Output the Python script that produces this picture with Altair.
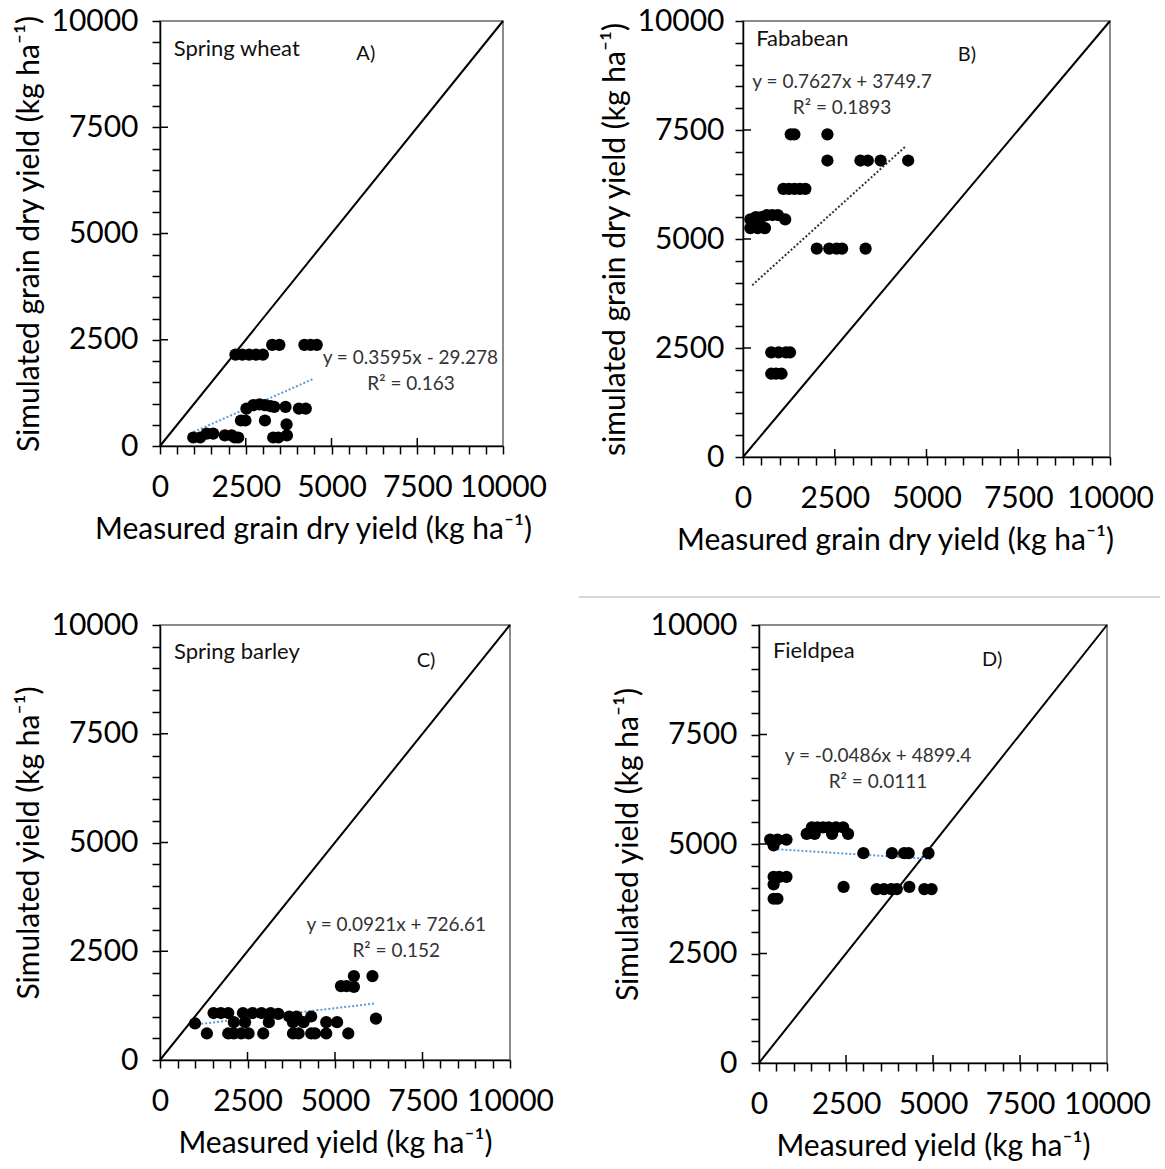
import altair as alt
import pandas as pd

FONT = "Lato"
TICKS = list(range(0, 10001, 500))
MAJOR = [2500, 5000, 7500]

# ---------------- Panel A: Spring wheat ----------------
A_meas = [2200, 2400, 2600, 2800, 3000,
          3270, 3480, 4210, 4390, 4570,
          2520, 2720, 2900, 3060, 3220, 3330, 3660, 4050, 4250,
          2360, 2490, 3060, 3690,
          3300, 3450, 3700,
          970, 1170, 1360, 1550, 1890, 2090, 2180, 2280]
A_sim = [2150, 2150, 2150, 2150, 2150,
         2380, 2380, 2380, 2380, 2380,
         880, 960, 980, 960, 940, 920, 920, 880, 880,
         600, 600, 600, 510,
         200, 200, 250,
         200, 200, 290, 290, 250, 250, 200, 200]
A_trend_x = [980, 4500]
A_trend_y = [330, 1590]

# ---------------- Panel B: Fababean ----------------
B_meas = [200, 350, 500, 650, 800, 950, 1150,
          200, 400, 600,
          1100, 1250, 1400, 1550, 1700,
          1300, 1400, 2300,
          2300, 3200, 3400, 3750, 4500,
          2010, 2350, 2550, 2700, 3340,
          770, 970, 1170, 1280,
          770, 900, 1050]
B_sim = [5450, 5500, 5500, 5550, 5550, 5550, 5450,
         5250, 5250, 5250,
         6150, 6150, 6150, 6150, 6150,
         7400, 7400, 7400,
         6800, 6800, 6800, 6800, 6800,
         4780, 4780, 4780, 4780, 4780,
         2400, 2400, 2400, 2400,
         1910, 1910, 1910]
B_trend_x = [250, 4450]
B_trend_y = [3940, 7140]

# ---------------- Panel C: Spring barley ----------------
C_meas = [1000, 1340,
          1530, 1740, 1950, 2370, 2640, 2900, 3160, 3380,
          3690, 3900, 4320,
          2110, 2430, 3110, 3800, 4100, 4750, 5060,
          1950, 2110, 2320, 2530, 2950, 3800, 3960, 4320, 4430, 4750, 5380,
          5170, 5330, 5540, 5540, 6070, 6170]
C_sim = [840, 610,
         1080, 1080, 1080, 1080, 1080, 1080, 1080, 1060,
         1000, 1000, 1000,
         870, 870, 870, 870, 870, 870, 870,
         610, 610, 610, 610, 610, 610, 610, 610, 610, 610, 610,
         1700, 1700, 1930, 1680, 1930, 950]
C_trend_x = [950, 6150]
C_trend_y = [810, 1300]

# ---------------- Panel D: Fieldpea ----------------
D_meas = [320, 530, 420, 790,
          1370, 1520, 1680, 1840, 2000, 2210, 2420, 2560, 1600, 2100,
          3000, 3820, 4170, 4300, 4870,
          420, 580, 790, 420,
          420, 530,
          2430,
          3380, 3590, 3800, 3960, 4320, 4750, 4960]
D_sim = [5100, 5100, 4970, 5100,
         5230, 5380, 5380, 5380, 5380, 5380, 5380, 5230, 5230, 5230,
         4790, 4790, 4790, 4790, 4790,
         4250, 4250, 4250, 4080,
         3750, 3750,
         4020,
         3970, 3970, 3970, 3970, 4020, 3970, 3970]
D_trend_x = [300, 4950]
D_trend_y = [4890, 4660]

LABEL_EXPR = "datum.value % 2500 === 0 ? datum.label : ''"


def make_axis(title, label_pad, title_pad, title_x=None):
    kw = dict(values=TICKS, labelExpr=LABEL_EXPR, format="d", labelFlush=False,
              labelOverlap=False, title=title, grid=False, tickSize=8,
              labelPadding=label_pad, titlePadding=title_pad)
    if title_x is not None:
        kw["titleX"] = title_x
    return alt.Axis(**kw)


def panel(meas, sim, tx, ty, tcolor, texts, xtitle, ytitle, w, h,
          xtitle_x=None, ytitle_pad=6, ylabel_pad=14, sep=False):
    sc = alt.Scale(domain=[0, 10000], nice=False, zero=False)
    X = alt.X("x:Q", scale=sc, axis=make_axis(xtitle, 18, 12, xtitle_x))
    Y = alt.Y("y:Q", scale=sc, axis=make_axis(ytitle, ylabel_pad, ytitle_pad))

    diag = alt.Chart(pd.DataFrame({"x": [0, 10000], "y": [0, 10000]})).mark_line(
        color="black", strokeWidth=2).encode(x=X, y=Y)
    trend = alt.Chart(pd.DataFrame({"x": tx, "y": ty})).mark_line(
        color=tcolor, strokeDash=[2, 2], strokeWidth=2).encode(x=X, y=Y)
    pts = alt.Chart(pd.DataFrame({"x": meas, "y": sim})).mark_circle(
        size=150, color="black", opacity=1).encode(x=X, y=Y)
    ytk = alt.Chart(pd.DataFrame({"y": MAJOR})).mark_rule(
        color="black", strokeWidth=1.5).encode(y=Y, x=alt.value(0), x2=alt.value(8))
    xtk = alt.Chart(pd.DataFrame({"x": MAJOR})).mark_rule(
        color="black", strokeWidth=1.5).encode(x=X, y=alt.value(h), y2=alt.value(h - 8))

    name, letter, eq, r2 = texts
    t_name = alt.Chart(pd.DataFrame([name])).mark_text(
        align="left", baseline="middle", font=FONT, fontSize=22, color="#111").encode(
        x=X, y=Y, text="t:N")
    t_letter = alt.Chart(pd.DataFrame([letter])).mark_text(
        align="center", baseline="middle", font=FONT, fontSize=20, color="#111").encode(
        x=X, y=Y, text="t:N")
    t_eq = alt.Chart(pd.DataFrame([eq, r2])).mark_text(
        align="center", baseline="middle", font=FONT, fontSize=19, color="#333").encode(
        x=X, y=Y, text="t:N")
    layers = [diag, trend, pts, ytk, xtk, t_name, t_letter, t_eq]
    if sep:
        rule = alt.Chart(pd.DataFrame({"y": [0]})).mark_rule(
            color="#c8c8c8", strokeWidth=1.5).encode(
            x=alt.value(-180), x2=alt.value(401), y=alt.value(-28))
        layers.append(rule)
    return alt.layer(*layers).properties(width=w, height=h)


KG = "(kg ha\u207b\u00b9)"
BLUE = "#5b9bd5"

pA = panel(A_meas, A_sim, A_trend_x, A_trend_y, BLUE,
           ({"x": 400, "y": 9340, "t": "Spring wheat"},
            {"x": 6000, "y": 9215, "t": "A)"},
            {"x": 7300, "y": 2060, "t": "y = 0.3595x - 29.278"},
            {"x": 7320, "y": 1450, "t": "R\u00b2 = 0.163"}),
           "Measured grain dry yield " + KG, "Simulated grain dry yield " + KG,
           343, 425, xtitle_x=153)
pB = panel(B_meas, B_sim, B_trend_x, B_trend_y, "#333333",
           ({"x": 360, "y": 9580, "t": "Fababean"},
            {"x": 6100, "y": 9220, "t": "B)"},
            {"x": 2700, "y": 8600, "t": "y = 0.7627x + 3749.7"},
            {"x": 2700, "y": 8016, "t": "R\u00b2 = 0.1893"}),
           "Measured grain dry yield " + KG, "simulated grain dry yield " + KG,
           367, 436, xtitle_x=152, ylabel_pad=11)
pC = panel(C_meas, C_sim, C_trend_x, C_trend_y, BLUE,
           ({"x": 400, "y": 9380, "t": "Spring barley"},
            {"x": 7600, "y": 9166, "t": "C)"},
            {"x": 6750, "y": 3098, "t": "y = 0.0921x + 726.61"},
            {"x": 6750, "y": 2510, "t": "R\u00b2 = 0.152"}),
           "Measured yield " + KG, "Simulated yield " + KG, 350, 435)
pD = panel(D_meas, D_sim, D_trend_x, D_trend_y, BLUE,
           ({"x": 400, "y": 9398, "t": "Fieldpea"},
            {"x": 6700, "y": 9212, "t": "D)"},
            {"x": 3420, "y": 7008, "t": "y = -0.0486x + 4899.4"},
            {"x": 3420, "y": 6415, "t": "R\u00b2 = 0.0111"}),
           "Measured yield " + KG, "Simulated yield " + KG, 348, 438, sep=True)

row1 = alt.hconcat(pA, pB, spacing=240, bounds="flush")
row2 = alt.hconcat(pC, pD, spacing=249, bounds="flush")
chart = alt.vconcat(row1, row2, spacing=604, bounds="flush").properties(
    padding={"left": 14, "top": 5, "right": 0, "bottom": 0}
).configure_axis(
    labelFont=FONT, titleFont=FONT, labelFontSize=30, titleFontSize=30,
    titleFontWeight="normal", labelColor="black", titleColor="black",
    domainColor="black", tickColor="black", domainWidth=1.5, tickWidth=1.5
).configure_view(stroke="#666666", strokeWidth=1.5)

chart.save("out.html", embed_options={"renderer": "svg", "actions": False})
